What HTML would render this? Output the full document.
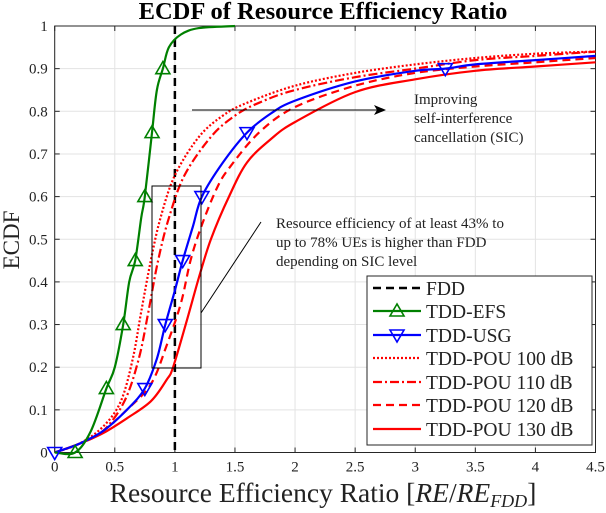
<!DOCTYPE html>
<html><head><meta charset="utf-8"><style>
body{margin:0;background:#fff}
svg text{font-family:"Liberation Serif",serif;fill:#222}
</style></head><body>
<svg id="c" width="606" height="508" viewBox="0 0 606 508"></svg>
<script>
const xTicks=[0,0.5,1,1.5,2,2.5,3,3.5,4,4.5];
const xTickLabels=["0","0.5","1","1.5","2","2.5","3","3.5","4","4.5"];
const yTicks=[0,0.1,0.2,0.3,0.4,0.5,0.6,0.7,0.8,0.9,1];
const yTickLabels=["0","0.1","0.2","0.3","0.4","0.5","0.6","0.7","0.8","0.9","1"];
const efsX=[0,0.17,0.3,0.43,0.5,0.57,0.62,0.67,0.72,0.75,0.81,0.85,0.9,0.95,1.05,1.2,1.5];
const efsY=[0,0,0.05,0.15,0.2,0.3,0.4,0.45,0.55,0.6,0.75,0.85,0.9,0.95,0.98,0.995,1];
const efsMarkX=[0.17,0.43,0.57,0.67,0.75,0.81,0.9];
const efsMarkY=[0,0.15,0.3,0.45,0.6,0.75,0.9];
const usgX=[0,0.2,0.4,0.6,0.75,0.85,0.92,1.0,1.065,1.15,1.225,1.4,1.6,1.8,2.0,2.5,3.0,3.25,3.5,4.0,4.5];
const usgY=[0,0.02,0.05,0.1,0.15,0.22,0.3,0.38,0.45,0.53,0.6,0.68,0.75,0.795,0.825,0.87,0.895,0.9,0.91,0.92,0.93];
const usgMarkX=[0,0.75,0.92,1.065,1.225,1.6,3.25];
const usgMarkY=[0,0.15,0.3,0.45,0.6,0.75,0.9];
const p100X=[0,0.2,0.4,0.55,0.65,0.72,0.8,0.88,1.0,1.2,1.4,1.6,2.0,2.5,3,3.5,4,4.5];
const p100Y=[0,0.02,0.06,0.12,0.22,0.33,0.45,0.55,0.65,0.74,0.79,0.82,0.86,0.89,0.91,0.925,0.935,0.94];
const p110X=[0,0.2,0.4,0.58,0.7,0.78,0.86,0.95,1.08,1.3,1.5,1.7,2.0,2.5,3,3.5,4,4.5];
const p110Y=[0,0.02,0.05,0.12,0.22,0.33,0.45,0.55,0.65,0.74,0.79,0.82,0.85,0.88,0.9,0.92,0.93,0.94];
const p120X=[0,0.2,0.4,0.6,0.8,0.93,1.05,1.13,1.22,1.35,1.46,1.7,2.0,2.5,3,3.5,4,4.5];
const p120Y=[0,0.02,0.05,0.1,0.16,0.25,0.35,0.45,0.53,0.62,0.67,0.75,0.81,0.86,0.89,0.905,0.915,0.925];
const p130X=[0,0.2,0.4,0.6,0.8,0.93,0.985,1.1,1.2,1.3,1.45,1.6,1.8,2.0,2.5,3,3.5,4,4.5];
const p130Y=[0,0.02,0.045,0.08,0.12,0.17,0.2,0.31,0.41,0.5,0.6,0.68,0.735,0.775,0.845,0.875,0.895,0.905,0.915];

const L=54.7,R=595.5,T=26,B=452.5;
const sx=v=>L+(R-L)*v/4.5, sy=v=>B-(B-T)*v;
const svg=document.getElementById('c');
const NS='http://www.w3.org/2000/svg';
function mk(tag,attrs,parent){const e=document.createElementNS(NS,tag);for(const k in attrs)e.setAttribute(k,attrs[k]);(parent||svg).appendChild(e);return e;}

xTicks.forEach((v,i)=>{
 const g=mk('line',{x1:sx(v),x2:sx(v),y1:T,y2:B,stroke:'#e3e3e3','stroke-width':1});
 
 
 const t=mk('line',{x1:sx(v),x2:sx(v),y1:B,y2:B-5,stroke:'#262626'});
 
 
 const t2=mk('line',{x1:sx(v),x2:sx(v),y1:T,y2:T+5,stroke:'#262626'});
 
 
 const lb=mk('text',{x:sx(v),y:B+19,'text-anchor':'middle','font-size':15});
 lb.textContent=xTickLabels[i];
 
 
});
yTicks.forEach((v,i)=>{
 const g=mk('line',{x1:L,x2:R,y1:sy(v),y2:sy(v),stroke:'#e3e3e3','stroke-width':1});
 
 
 const t=mk('line',{x1:L,x2:L+5,y1:sy(v),y2:sy(v),stroke:'#262626'});
 
 
 const t2=mk('line',{x1:R,x2:R-5,y1:sy(v),y2:sy(v),stroke:'#262626'});
 
 
 const lb=mk('text',{x:L-7,y:sy(v)+5,'text-anchor':'end','font-size':15});
 lb.textContent=yTickLabels[i];
 
 
});
const frame=mk('rect',{x:L,y:T,width:R-L,height:B-T,fill:'none',stroke:'#262626','stroke-width':1});



function path(xs,ys){
 const P=xs.map((x,i)=>[sx(x),sy(ys[i])]);
 let d='M'+P[0][0].toFixed(1)+','+P[0][1].toFixed(1);
 for(let i=0;i<P.length-1;i++){
  const p0=P[Math.max(0,i-1)],p1=P[i],p2=P[i+1],p3=P[Math.min(P.length-1,i+2)];
  const c1=[p1[0]+(p2[0]-p0[0])/6,p1[1]+(p2[1]-p0[1])/6];
  const c2=[p2[0]-(p3[0]-p1[0])/6,p2[1]-(p3[1]-p1[1])/6];
  d+='C'+c1[0].toFixed(1)+','+c1[1].toFixed(1)+' '+c2[0].toFixed(1)+','+c2[1].toFixed(1)+' '+p2[0].toFixed(1)+','+p2[1].toFixed(1);
 }
 return d;
}
function series(xs,ys,color,dash,name){
 const p=mk('path',{d:path(xs,ys),fill:'none',stroke:color,'stroke-width':2.2,'stroke-dasharray':dash||'none','stroke-linejoin':'round'});
 
 
}
function tri(x,y,up,color){return mk('path',{d:up?`M${x},${y-7}L${x-7},${y+5}L${x+7},${y+5}Z`:`M${x},${y+7}L${x-7},${y-5}L${x+7},${y-5}Z`,fill:'none',stroke:color,'stroke-width':1.6});}

const fdd=mk('line',{x1:sx(1),x2:sx(1),y1:T,y2:B,stroke:'#000','stroke-width':2.5,'stroke-dasharray':'8,5'});


series(p100X,p100Y,'#ff0000','2,2','tdd-pou-100-line');
series(p110X,p110Y,'#ff0000','9,3,2,3','tdd-pou-110-line');
series(p120X,p120Y,'#ff0000','8,5','tdd-pou-120-line');
series(p130X,p130Y,'#ff0000','','tdd-pou-130-line');
series(usgX,usgY,'#0000ff','','tdd-usg-line');
series(efsX,efsY,'#008000','','tdd-efs-line');
efsMarkX.forEach((x,i)=>{const m=tri(sx(x),sy(efsMarkY[i]),true,'#008000');
 
 });
usgMarkX.forEach((x,i)=>{const m=tri(sx(x),sy(usgMarkY[i]),false,'#0000ff');
 
 });
</script>
<svg width="606" height="508" style="position:absolute;left:0;top:0">
 <defs><marker id="ah" markerWidth="12" markerHeight="10" refX="11" refY="5" orient="auto" markerUnits="userSpaceOnUse"><path d="M0,0L12,5L0,10L3,5Z" fill="#000"/></marker></defs>
 <text x="323" y="19" text-anchor="middle" font-size="24.5" font-weight="bold" style="fill:#000">ECDF of Resource Efficiency Ratio</text>
 <text transform="translate(19,240) rotate(-90)" text-anchor="middle" font-size="23">ECDF</text>
 <text x="323" y="502" text-anchor="middle" font-size="27.5">Resource Efficiency Ratio [<tspan font-style="italic">RE</tspan>/<tspan font-style="italic">RE</tspan><tspan font-style="italic" font-size="18" dy="5">FDD</tspan><tspan dy="-5">]</tspan></text>
 <line x1="192" y1="110" x2="385" y2="110" stroke="#000" stroke-width="1" marker-end="url(#ah)"/>
 <text font-size="15"><tspan x="414" y="104">Improving</tspan><tspan x="414" y="123">self-interference</tspan><tspan x="414" y="142">cancellation (SIC)</tspan></text>
 <rect x="152" y="186" width="49" height="182" fill="none" stroke="#000" stroke-width="1"/>
 <line x1="201" y1="313" x2="261" y2="222" stroke="#000" stroke-width="1"/>
 <text font-size="15"><tspan x="276" y="228">Resource efficiency of at least 43% to</tspan><tspan x="276" y="247">up to 78% UEs is higher than FDD</tspan><tspan x="276" y="266">depending on SIC level</tspan></text>
 <g>
  <rect x="367" y="276" width="225" height="169" fill="#fff" stroke="#262626" stroke-width="1"/>
  <g><line x1="373" x2="421" y1="288" y2="288" stroke="#000" stroke-width="2.5" stroke-dasharray="8,5"/><text x="426" y="295" font-size="19.5">FDD</text></g>
  <g><line x1="373" x2="421" y1="311" y2="311" stroke="#008000" stroke-width="2.2"/><path d="M397,304L390,316L404,316Z" fill="none" stroke="#008000" stroke-width="1.6"/><text x="426" y="318" font-size="19.5">TDD-EFS</text></g>
  <g><line x1="373" x2="421" y1="335" y2="335" stroke="#0000ff" stroke-width="2.2"/><path d="M397,342L390,330L404,330Z" fill="none" stroke="#0000ff" stroke-width="1.6"/><text x="426" y="342" font-size="19.5">TDD-USG</text></g>
  <g><line x1="373" x2="421" y1="358" y2="358" stroke="#f00" stroke-width="2.2" stroke-dasharray="2,2"/><text x="426" y="365" font-size="19.5">TDD-POU 100 dB</text></g>
  <g><line x1="373" x2="421" y1="382" y2="382" stroke="#f00" stroke-width="2.2" stroke-dasharray="9,3,2,3"/><text x="426" y="389" font-size="19.5">TDD-POU 110 dB</text></g>
  <g><line x1="373" x2="421" y1="405" y2="405" stroke="#f00" stroke-width="2.2" stroke-dasharray="8,5"/><text x="426" y="412" font-size="19.5">TDD-POU 120 dB</text></g>
  <g><line x1="373" x2="421" y1="429" y2="429" stroke="#f00" stroke-width="2.2"/><text x="426" y="436" font-size="19.5">TDD-POU 130 dB</text></g>
 </g>
</svg>
</body></html>
